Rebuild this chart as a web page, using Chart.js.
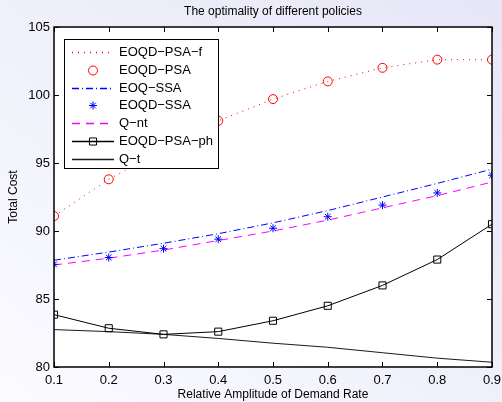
<!DOCTYPE html>
<html>
<head>
<meta charset="utf-8">
<script src="https://cdn.jsdelivr.net/npm/chart.js@4.4.1/dist/chart.umd.min.js"></script>
<style>
  html, body { margin: 0; padding: 0; }
  body { width: 502px; height: 402px; overflow: hidden;
         background: linear-gradient(to top right, #fbfbff 0%, #f0f0fb 50%, #e6e6f7 100%); }
  canvas { display: block; }
</style>
</head>
<body>
<canvas id="c" width="502" height="402"></canvas>
<script>
// ---- data ----
const amplitudes = [0.1, 0.2, 0.3, 0.4, 0.5, 0.6, 0.7, 0.8, 0.9];
const eoqdPsaF   = [91.1, 93.8, 96.0, 98.1, 99.7, 101.0, 102.0, 102.6, 102.6];
const eoqdPsa    = [91.1, 93.8, 96.0, 98.1, 99.7, 101.0, 102.0, 102.6, 102.6];
const eoqSsa     = [87.85, 88.45, 89.1, 89.8, 90.6, 91.5, 92.5, 93.5, 94.55];
const eoqdSsa    = [87.55, 88.05, 88.7, 89.4, 90.2, 91.05, 91.9, 92.8, 94.1];
const qNt        = [87.5, 88.0, 88.6, 89.3, 90.0, 90.8, 91.7, 92.6, 93.6];
const eoqdPsaPh  = [83.85, 82.85, 82.4, 82.6, 83.4, 84.5, 86.0, 87.9, 90.5];
const qT         = [82.75, 82.6, 82.4, 82.1, 81.75, 81.45, 81.05, 80.65, 80.35];
const xTicks = [0.1, 0.2, 0.3, 0.4, 0.5, 0.6, 0.7, 0.8, 0.9];
const yTicks = [80, 85, 90, 95, 100, 105];
const seriesNames = ['EOQD\u2212PSA\u2212f', 'EOQD\u2212PSA', 'EOQ\u2212SSA', 'EOQD\u2212SSA', 'Q\u2212nt', 'EOQD\u2212PSA\u2212ph', 'Q\u2212t'];

const FONT = 'Liberation Sans, Arial, Helvetica, sans-serif';
const pts = arr => arr.map((v, i) => ({ x: amplitudes[i], y: v }));

const styles = [
  { color: '#ff0000', line: true, dash: [1, 5], marker: null, r: 0 },
  { color: '#ff0000', line: false, dash: [], marker: 'circle', r: 4.5 },
  { color: '#0000ff', line: true, dash: [7, 3, 1, 3], marker: null, r: 0 },
  { color: '#0000ff', line: false, dash: [], marker: 'star', r: 4 },
  { color: '#ff00ff', line: true, dash: [8, 6], marker: null, r: 0 },
  { color: '#000000', line: true, dash: [], marker: 'rect', r: 5 },
  { color: '#1a1a1a', line: true, dash: [], marker: null, r: 0 }
];
const seriesData = [eoqdPsaF, eoqdPsa, eoqSsa, eoqdSsa, qNt, eoqdPsaPh, qT];

const datasets = seriesData.map((arr, i) => {
  const s = styles[i];
  return {
    label: seriesNames[i],
    data: pts(arr),
    showLine: s.line,
    borderColor: s.color,
    borderWidth: 1,
    borderDash: s.dash,
    pointStyle: s.marker || 'circle',
    pointRadius: s.r,
    pointBorderWidth: 1,
    pointBorderColor: s.color,
    pointBackgroundColor: 'rgba(0,0,0,0)'
  };
});

const frame = {
  id: 'frame',
  beforeDatasetsDraw(chart) {
    const { ctx, chartArea: a } = chart;
    ctx.save();
    ctx.fillStyle = '#ffffff';
    ctx.fillRect(a.left, a.top, a.right - a.left, a.bottom - a.top);
    ctx.restore();
  },
  afterDraw(chart) {
    const { ctx, chartArea: a, scales } = chart;
    ctx.save();
    ctx.strokeStyle = '#000';
    ctx.lineWidth = 1;
    ctx.beginPath();
    xTicks.forEach(v => {
      const px = Math.round(scales.x.getPixelForValue(v)) + 0.5;
      ctx.moveTo(px, a.bottom); ctx.lineTo(px, a.bottom - 5);
      ctx.moveTo(px, a.top); ctx.lineTo(px, a.top + 5);
    });
    yTicks.forEach(v => {
      const py = Math.round(scales.y.getPixelForValue(v)) + 0.5;
      ctx.moveTo(a.left, py); ctx.lineTo(a.left + 5, py);
      ctx.moveTo(a.right, py); ctx.lineTo(a.right - 5, py);
    });
    ctx.stroke();
    ctx.lineWidth = 1.5;
    ctx.strokeRect(a.left, a.top, a.right - a.left, a.bottom - a.top);

    // legend
    const lx = 64, ly = 39, lw = 154, lh = 129;
    ctx.fillStyle = '#fff';
    ctx.fillRect(lx, ly, lw, lh);
    ctx.lineWidth = 1;
    ctx.strokeStyle = '#000';
    ctx.strokeRect(lx + 0.5, ly + 0.5, lw, lh);
    ctx.font = '13px ' + FONT;
    ctx.textBaseline = 'middle';
    ctx.textAlign = 'left';
    styles.forEach((s, i) => {
      const y = Math.round(52 + i * 17.8) + 0.5;
      const x0 = 72, x1 = 114, xm = 93;
      ctx.save();
      ctx.strokeStyle = s.color;
      ctx.lineWidth = 1.3;
      if (s.line) {
        ctx.setLineDash(s.dash);
        ctx.beginPath(); ctx.moveTo(x0, y); ctx.lineTo(x1, y); ctx.stroke();
        ctx.setLineDash([]);
      }
      ctx.lineWidth = 1;
      if (s.marker) {
        const r = s.r;
        ctx.beginPath();
        if (s.marker === 'circle') {
          ctx.arc(xm, y, r, 0, Math.PI * 2);
        } else if (s.marker === 'star') {
          ctx.moveTo(xm - r, y); ctx.lineTo(xm + r, y);
          ctx.moveTo(xm, y - r); ctx.lineTo(xm, y + r);
          const d = r * Math.SQRT1_2;
          ctx.moveTo(xm - d, y - d); ctx.lineTo(xm + d, y + d);
          ctx.moveTo(xm - d, y + d); ctx.lineTo(xm + d, y - d);
        } else if (s.marker === 'rect') {
          const h = r * Math.SQRT1_2;
          ctx.rect(xm - h, y - h, 2 * h, 2 * h);
        }
        ctx.stroke();
      }
      ctx.restore();
      ctx.fillStyle = '#000';
      ctx.fillText(seriesNames[i], 119, y);
    });
    ctx.restore();
  }
};

new Chart(document.getElementById('c'), {
  type: 'line',
  data: { datasets },
  options: {
    responsive: false,
    animation: false,
    devicePixelRatio: 1,
    layout: { padding: { left: 0, right: 10, top: 0, bottom: 0 } },
    elements: { line: { tension: 0, fill: false } },
    plugins: {
      legend: { display: false },
      tooltip: { enabled: false },
      title: {
        display: true,
        text: 'The optimality of different policies',
        fullSize: false,
        color: '#000',
        font: { family: FONT, size: 12, weight: 'normal' },
        padding: { top: 4, bottom: 8.6 }
      }
    },
    scales: {
      x: {
        type: 'linear',
        min: 0.1, max: 0.9,
        afterBuildTicks: s => { s.ticks = xTicks.map(v => ({ value: v })); },
        afterFit: s => { s.height = 35; s.paddingLeft = 0; s.paddingRight = 0; },
        grid: { display: false, drawTicks: false },
        border: { display: false },
        ticks: { color: '#000', padding: 6, maxRotation: 0, autoSkip: false,
                 font: { family: FONT, size: 13 }, callback: v => Number(v).toFixed(1) },
        title: { display: true, text: 'Relative Amplitude of Demand Rate', color: '#000',
                 font: { family: FONT, size: 12 }, padding: { top: 0, bottom: 0 } }
      },
      y: {
        type: 'linear',
        min: 80, max: 105,
        afterBuildTicks: s => { s.ticks = yTicks.map(v => ({ value: v })); },
        afterFit: s => { s.width = 54; s.paddingTop = 0; s.paddingBottom = 0; },
        grid: { display: false, drawTicks: false },
        border: { display: false },
        ticks: { color: '#000', padding: 4, font: { family: FONT, size: 13 } },
        title: { display: true, text: 'Total Cost', color: '#000',
                 font: { family: FONT, size: 12 }, padding: { top: 6, bottom: 0 } }
      }
    }
  },
  plugins: [frame]
});
</script>
</body>
</html>
